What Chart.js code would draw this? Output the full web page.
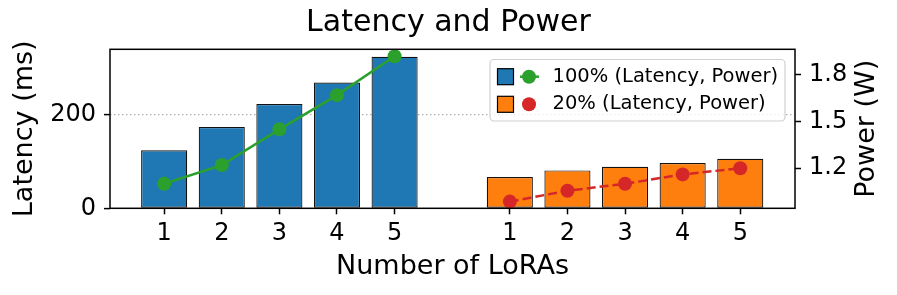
<!DOCTYPE html>
<html>
<head>
<meta charset="utf-8">
<script src="https://cdn.jsdelivr.net/npm/chart.js@4"></script>
<style>
  body { margin: 0; background: #fff; }
  #wrap { width: 897px; height: 295px; }
</style>
</head>
<body>
<div id="wrap"><canvas id="chart"></canvas></div>
<script>
var loraLabels = ['1', '2', '3', '4', '5'];
var latency100 = [124, 174, 223, 269, 324];
var latency20 = [67, 81, 89, 97, 106];
var power100 = [1.10, 1.22, 1.45, 1.67, 1.92];
var power20 = [0.985, 1.055, 1.10, 1.16, 1.20];
var latencyTicks = [0, 200];
var powerTicks = [1.2, 1.5, 1.8];

// second group sits after a one-slot gap
var pos100 = loraLabels.map(function (l, i) { return i; });
var pos20 = loraLabels.map(function (l, i) { return i + 6; });
var xTicks = pos100.concat(pos20);

function pts(xs, ys) {
    return xs.map(function (x, i) { return { x: x, y: ys[i] }; });
}

var FONT = "'DejaVu Sans'";

var extras = {
    id: 'extras',
    afterDraw: function (chart) {
        var ctx = chart.ctx;
        var a = chart.chartArea;
        ctx.save();
        // frame
        ctx.strokeStyle = '#000';
        ctx.lineWidth = 1.5;
        ctx.strokeRect(a.left, a.top, a.right - a.left, a.bottom - a.top);

        // right axis title
        ctx.save();
        ctx.translate(867, (a.top + a.bottom) / 2);
        ctx.rotate(-Math.PI / 2);
        ctx.fillStyle = '#000';
        ctx.font = '27px ' + FONT;
        ctx.textAlign = 'center';
        ctx.textBaseline = 'middle';
        ctx.fillText('Power (W)', 0, 0);
        ctx.restore();

        // legend
        var bx = 490, by = 59.5, bw = 295, bh = 61.5;
        ctx.beginPath();
        ctx.roundRect(bx, by, bw, bh, 4);
        ctx.fillStyle = 'rgba(255,255,255,0.8)';
        ctx.fill();
        ctx.strokeStyle = '#d0d0d0';
        ctx.lineWidth = 1.2;
        ctx.stroke();

        var rows = [
            { bar: '#1f77b4', dot: '#2ca02c', line: true, text: '100% (Latency, Power)', y: 76.7 },
            { bar: '#ff7f0e', dot: '#d62728', line: false, text: '20% (Latency, Power)', y: 104.3 }
        ];
        rows.forEach(function (r) {
            ctx.fillStyle = r.bar;
            ctx.fillRect(497.5, r.y - 8, 16, 16);
            ctx.strokeStyle = '#000';
            ctx.lineWidth = 1.2;
            ctx.strokeRect(497.5, r.y - 8, 16, 16);
            if (r.line) {
                ctx.beginPath();
                ctx.moveTo(520, r.y);
                ctx.lineTo(539, r.y);
                ctx.strokeStyle = r.dot;
                ctx.lineWidth = 2.5;
                ctx.stroke();
            }
            ctx.beginPath();
            ctx.arc(529, r.y, 7, 0, Math.PI * 2);
            ctx.fillStyle = r.dot;
            ctx.fill();
            ctx.fillStyle = '#000';
            ctx.font = '19.5px ' + FONT;
            ctx.textAlign = 'left';
            ctx.textBaseline = 'middle';
            ctx.fillText(r.text, 552.5, r.y);
        });
        ctx.restore();
    }
};

new Chart(document.getElementById('chart'), {
    type: 'bar',
    data: {
        datasets: [
            {
                type: 'line',
                label: '100% Power',
                data: pts(pos100, power100),
                yAxisID: 'y1',
                borderColor: '#2ca02c',
                backgroundColor: '#2ca02c',
                borderWidth: 2.5,
                pointRadius: 7,
                pointBorderWidth: 0,
                order: 0
            },
            {
                type: 'line',
                label: '20% Power',
                data: pts(pos20, power20),
                yAxisID: 'y1',
                borderColor: '#d62728',
                backgroundColor: '#d62728',
                borderWidth: 2.5,
                borderDash: [9, 4],
                pointRadius: 7,
                pointBorderWidth: 0,
                order: 0
            },
            {
                label: '100% Latency',
                data: pts(pos100, latency100),
                yAxisID: 'y',
                backgroundColor: '#1f77b4',
                borderColor: '#111',
                borderWidth: 1.2,
                borderSkipped: false,
                grouped: false,
                barPercentage: 1,
                categoryPercentage: 0.8,
                order: 1
            },
            {
                label: '20% Latency',
                data: pts(pos20, latency20),
                yAxisID: 'y',
                backgroundColor: '#ff7f0e',
                borderColor: '#111',
                borderWidth: 1.2,
                borderSkipped: false,
                grouped: false,
                barPercentage: 1,
                categoryPercentage: 0.8,
                order: 1
            }
        ]
    },
    options: {
        responsive: true,
        maintainAspectRatio: false,
        animation: false,
        layout: { padding: 0 },
        plugins: {
            legend: { display: false },
            tooltip: { enabled: false },
            title: {
                display: true,
                text: 'Latency and Power',
                color: '#000',
                font: { family: FONT, size: 30, weight: 'normal', lineHeight: 1.2 },
                padding: { top: 5, bottom: 8.3 }
            }
        },
        scales: {
            x: {
                type: 'linear',
                offset: false,
                min: -0.94,
                max: 10.95,
                afterBuildTicks: function (s) { s.ticks = xTicks.map(function (v) { return { value: v }; }); },
                afterFit: function (s) { s.height = 86.7; },
                ticks: {
                    autoSkip: false,
                    maxRotation: 0,
                    color: '#000',
                    padding: 5,
                    font: { family: FONT, size: 24 },
                    callback: function (v) { return v < 5 ? loraLabels[v] : loraLabels[v - 6]; }
                },
                grid: { offset: false, drawOnChartArea: false, tickLength: 6, tickColor: '#000', tickWidth: 1.5 },
                border: { display: false },
                title: {
                    display: true,
                    text: 'Number of LoRAs',
                    color: '#000',
                    font: { family: FONT, size: 27 },
                    padding: { top: 0, bottom: 12 }
                }
            },
            y: {
                position: 'left',
                min: 0,
                max: 340,
                afterBuildTicks: function (s) { s.ticks = latencyTicks.map(function (v) { return { value: v }; }); },
                afterFit: function (s) { s.width = 110; },
                ticks: { color: '#000', padding: 8, font: { family: FONT, size: 24 } },
                grid: {
                    color: function (c) { return c.tick && c.tick.value === 200 ? '#b0b0b0' : 'rgba(0,0,0,0)'; },
                    lineWidth: 1.2,
                    tickLength: 6,
                    tickColor: '#000',
                    tickWidth: 1.5
                },
                border: { display: false, dash: [1.5, 2.5] },
                title: {
                    display: true,
                    text: 'Latency (ms)',
                    color: '#000',
                    font: { family: FONT, size: 27 },
                    padding: { top: 9, bottom: 0 }
                }
            },
            y1: {
                position: 'right',
                min: 0.942,
                max: 1.965,
                afterBuildTicks: function (s) { s.ticks = powerTicks.map(function (v) { return { value: v }; }); },
                afterFit: function (s) { s.width = 102; },
                ticks: {
                    color: '#000',
                    padding: 8,
                    font: { family: FONT, size: 24 },
                    callback: function (v) { return v.toFixed(1); }
                },
                grid: { drawOnChartArea: false, tickLength: 6, tickColor: '#000', tickWidth: 1.5 },
                border: { display: false }
            }
        }
    },
    plugins: [extras]
});
</script>
</body>
</html>
